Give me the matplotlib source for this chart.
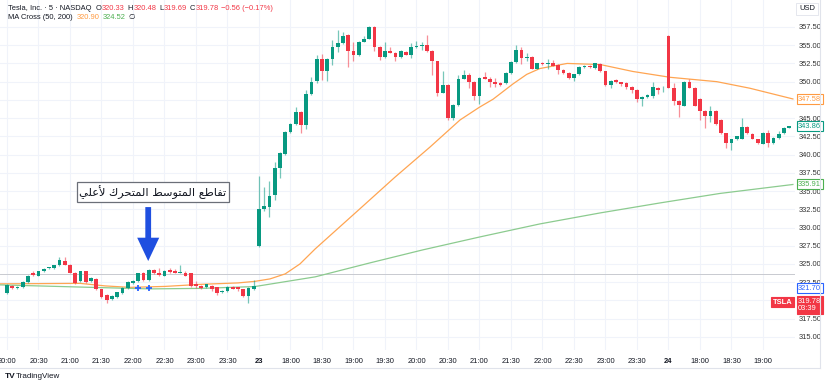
import numpy as np
import matplotlib.pyplot as plt
from matplotlib.lines import Line2D
import matplotlib.transforms as mtrans

plt.rcParams['font.family'] = ['Liberation Sans Narrow', 'Liberation Sans', 'DejaVu Sans']

# 5 minute candles
opens = [321.0, 322.0, 321.7, 321.8, 322.5, 323.8, 323.4, 324.0, 324.4, 324.4,
         324.8, 325.4, 324.9, 323.8, 322.6, 324.0, 322.6, 323.0, 321.5, 320.8,
         320.2, 320.5, 321.0, 321.7, 322.4, 322.6, 323.7, 322.8, 324.2, 323.8,
         323.4, 324.2, 324.0, 323.8, 323.8, 323.7, 322.2, 322.0, 321.9, 322.0,
         321.8, 321.1, 321.3, 321.9, 321.8, 321.5, 320.6, 321.5, 327.5, 332.5,
         332.8, 334.4, 338.2, 340.1, 343.1, 344.2, 345.8, 344.1, 348.3, 350.1,
         353.1, 351.5, 353.1, 354.8, 355.3, 356.4, 354.2, 353.6, 355.5, 355.9,
         357.5, 354.8, 353.4, 354.2, 354.0, 353.4, 354.1, 353.7, 354.7, 354.9,
         355.0, 354.2, 352.8, 348.5, 349.6, 345.0, 346.8, 350.4, 350.9, 350.0,
         348.0, 350.6, 350.3, 349.9, 349.8, 349.8, 351.2, 352.7, 354.4, 353.2,
         353.4, 351.8, 352.6, 352.45, 352.5, 352.3, 351.6, 351.2, 350.5, 351.0,
         352.0, 352.2, 351.9, 352.4, 351.4, 349.6, 350.2, 349.9, 349.8, 349.3,
         348.9, 347.6, 347.9, 348.0, 349.2, 348.8, 356.3, 349.2, 347.4, 346.7,
         349.9, 349.2, 347.6, 346.0, 345.3, 346.0, 344.8, 342.9, 341.6, 342.1,
         342.2, 343.8, 342.8, 342.1, 341.5, 343.0, 341.6, 342.3, 342.9, 343.7]
closes = [322.1, 321.7, 321.9, 322.5, 323.4, 323.5, 324.0, 324.3, 324.5, 324.8,
          325.5, 324.9, 323.8, 322.4, 324.0, 322.5, 323.1, 321.5, 320.5, 320.1,
          320.6, 321.1, 321.7, 322.5, 322.7, 323.7, 322.8, 324.2, 323.7, 323.5,
          324.1, 323.9, 323.8, 323.85, 323.4, 322.0, 322.0, 321.7, 322.2, 321.6,
          321.0, 321.3, 321.9, 321.6, 321.5, 320.6, 321.7, 322.0, 332.5, 332.9,
          334.3, 338.2, 340.2, 343.1, 344.2, 345.8, 344.1, 348.3, 350.0, 353.1,
          351.5, 353.1, 354.8, 355.3, 356.3, 354.2, 353.6, 355.5, 355.9, 357.5,
          354.8, 353.4, 354.2, 354.0, 353.4, 354.2, 353.7, 354.7, 354.9, 355.0,
          354.2, 352.8, 348.5, 349.6, 345.0, 346.8, 350.4, 350.9, 350.0, 348.0,
          350.5, 350.4, 349.9, 349.7, 349.5, 351.2, 352.7, 354.4, 353.2, 353.4,
          351.8, 352.5, 352.4, 352.5, 352.2, 351.6, 351.2, 350.5, 351.0, 352.0,
          352.1, 352.0, 352.5, 351.4, 349.6, 350.1, 349.9, 349.7, 349.3, 348.8,
          347.6, 347.9, 348.2, 349.3, 348.8, 348.9, 349.2, 347.4, 346.8, 350.0,
          349.2, 346.7, 346.0, 345.3, 346.0, 344.2, 342.9, 341.6, 342.1, 342.5,
          343.8, 342.9, 342.2, 341.6, 343.0, 341.6, 342.3, 342.8, 343.7, 343.86]
highs = [322.2, 322.1, 322.0, 322.6, 323.5, 324.0, 324.1, 324.4, 324.6, 324.9,
         325.9, 326.0, 325.0, 323.9, 324.1, 324.1, 323.2, 323.1, 321.6, 320.9,
         320.7, 321.2, 321.8, 322.6, 322.8, 323.8, 323.9, 324.3, 324.3, 324.4,
         324.2, 324.4, 324.3, 324.8, 324.0, 323.8, 322.6, 322.1, 322.3, 322.1,
         321.9, 321.4, 322.0, 322.0, 321.9, 321.6, 321.8, 322.8, 337.0, 335.6,
         336.4, 339.0, 340.3, 343.2, 344.3, 346.5, 346.0, 348.9, 350.6, 353.7,
         353.8, 353.2, 355.7, 357.1, 356.8, 356.5, 355.4, 355.6, 356.3, 357.7,
         357.6, 354.9, 355.4, 354.8, 354.1, 354.3, 354.2, 355.3, 355.6, 355.4,
         356.4, 354.3, 352.9, 351.4, 349.7, 346.9, 350.9, 351.6, 351.2, 350.1,
         350.6, 351.3, 350.7, 350.5, 349.9, 351.3, 352.9, 355.0, 354.7, 353.9,
         353.5, 352.6, 352.7, 353.1, 353.0, 352.4, 351.7, 351.3, 351.1, 352.1,
         352.3, 352.3, 352.6, 352.5, 351.5, 350.2, 350.3, 350.0, 349.9, 349.4,
         349.0, 348.0, 348.3, 350.0, 349.3, 349.4, 356.4, 349.8, 347.5, 350.1,
         350.3, 349.3, 347.7, 346.1, 346.7, 346.1, 344.9, 343.0, 342.2, 342.6,
         345.0, 343.9, 342.9, 342.2, 343.1, 343.4, 342.4, 343.3, 343.8, 343.95]
lows = [320.9, 321.6, 321.6, 321.7, 322.4, 323.3, 323.3, 323.9, 324.3, 324.3,
        324.7, 324.8, 323.7, 322.3, 322.5, 322.4, 322.5, 321.4, 320.3, 319.7,
        320.1, 320.4, 320.9, 321.6, 322.3, 322.5, 322.7, 322.7, 323.6, 323.4,
        323.3, 323.8, 323.7, 323.7, 323.3, 321.9, 321.7, 321.6, 321.7, 321.3,
        320.8, 321.0, 321.2, 321.5, 321.3, 320.5, 319.7, 321.4, 327.3, 332.2,
        331.5, 333.8, 336.8, 340.0, 342.9, 344.1, 342.9, 343.5, 348.2, 349.8,
        350.2, 350.1, 352.3, 354.1, 355.2, 352.0, 352.9, 353.5, 355.4, 355.8,
        354.2, 353.0, 353.3, 353.9, 352.8, 353.3, 353.6, 353.3, 354.6, 354.4,
        354.1, 350.9, 348.0, 348.4, 344.8, 344.7, 346.6, 350.3, 349.1, 347.5,
        346.9, 350.3, 349.3, 349.3, 349.4, 349.7, 351.1, 352.6, 352.4, 352.9,
        351.7, 351.7, 352.3, 351.8, 352.1, 351.1, 351.1, 350.4, 350.1, 350.9,
        351.9, 351.9, 351.8, 351.3, 349.4, 349.1, 349.8, 349.4, 349.0, 348.5,
        347.2, 346.6, 347.8, 347.8, 348.3, 348.6, 349.1, 346.8, 345.1, 346.6,
        349.1, 346.6, 344.8, 343.6, 344.5, 344.0, 342.8, 340.9, 340.6, 342.0,
        342.1, 342.8, 342.1, 341.4, 341.4, 341.0, 341.5, 342.2, 342.8, 343.6]

# moving averages (candle index, price)
ma50_t = [-1.33, 13.9, 18.7, 23.4, 30.1, 36.8, 44.0, 47.2, 50.1, 53.0, 55.8,
          58.7, 67.2, 73.9, 80.6, 86.3, 90.0, 92.6, 96.4, 99.0, 101.5, 106.7,
          113.0, 119.2, 126.3, 135.2, 141.5, 149.7]
ma50_v = [322.27, 322.34, 321.99, 321.79, 321.92, 322.20, 322.40, 322.61,
          322.95, 323.64, 325.0, 327.06, 332.55, 336.90, 341.05, 344.75,
          346.5, 347.6, 349.7, 351.0, 351.8, 352.5, 352.35, 351.4, 350.6,
          350.0, 349.1, 347.63]
ma200_t = [-1.33, 17.7, 27.2, 36.8, 47.2, 58.7, 69.1, 79.2, 90.1, 101.5,
           113.0, 124.4, 135.8, 149.7]
ma200_v = [322.13, 321.76, 321.58, 321.65, 321.90, 323.23, 325.14, 326.93,
           328.71, 330.49, 332.00, 333.37, 334.67, 335.90]

cross_t = [25.0, 27.0]
cross_v = [321.72, 321.72]
prev_close = 323.64

tick_idx = [0, 6, 12, 18, 24, 30, 36, 42, 48, 54, 60, 66, 72, 78, 84, 90,
            96, 102, 108, 114, 120, 126, 132, 138, 144]
tick_lbl = ['20:00', '20:30', '21:00', '21:30', '22:00', '22:30', '23:00', '23:30',
            '23', '18:00', '18:30', '19:00', '19:30', '20:00', '20:30', '21:00',
            '21:30', '22:00', '22:30', '23:00', '23:30', '24', '18:00', '18:30', '19:00']
price_ticks = np.arange(315.0, 358.0, 2.5)
hidden_ticks = [347.5, 320.0]

# Arabic note, written in shaped presentation forms (visual order)
note = ('\ufef2\ufee0\ufecb\ufef7 \ufed9\ufeae\ufea4\ufe98\ufee4\ufedf\ufe8d '
        '\ufec2\ufeb3\ufeee\ufe98\ufee4\ufedf\ufe8d \ufeca\ufec3\ufe8e\ufed4\ufe97')

UP = '#089981'
DOWN = '#F23645'
DARK = '#131722'
FS = 5.4

fig = plt.figure(figsize=(8.25, 3.85), dpi=100)
ax = fig.add_axes([0, 35 / 385, 795 / 825, 350 / 385])

o = np.array(opens); c = np.array(closes)
h = np.array(highs); l = np.array(lows)
t = np.arange(len(o))
cols = np.where(c >= o, UP, DOWN)

# candles: wicks then bodies
ax.vlines(t, l, h, colors=cols, linewidth=0.9, alpha=0.55, zorder=3)
body_lo = np.minimum(o, c)
body_h = np.maximum(np.abs(c - o), 0.12)
ax.bar(t, body_h, bottom=body_lo, width=0.72, color=cols, linewidth=0, zorder=4)

ax.plot(ma50_t, ma50_v, color='#FFA552', lw=0.9, zorder=2)
ax.plot(ma200_t, ma200_v, color='#8CCB8F', lw=0.9, zorder=2)
ax.axhline(prev_close, color='#c8cad0', lw=0.7, zorder=1)
ax.plot(cross_t, cross_v, linestyle='none', marker='+', ms=5, mew=1.3,
        color='#2962FF', zorder=5)

# annotation
ax.arrow(26.9, 332.8, 0, -7.4, width=1.1, head_width=4.2, head_length=3.2,
         length_includes_head=True, color='#1F4FE0', lw=0, zorder=6)
ax.text(27.8, 334.9, note, family='DejaVu Sans', fontsize=8.2, color=DARK,
        ha='center', va='center', zorder=7,
        bbox=dict(boxstyle='square,pad=0.25', fc='white', ec='#6b6f78', lw=0.9))

ax.set_xlim(-1.33, 150.1)
ax.set_ylim(313.2, 361.2)
for s in ax.spines.values():
    s.set_visible(False)
ax.set_xticks(tick_idx)
ax.set_xticklabels(tick_lbl, fontsize=FS, color=DARK)
for lab in ax.get_xticklabels():
    if lab.get_text() in ('23', '24'):
        lab.set_fontweight('bold')
ax.set_yticks(price_ticks)
ax.set_yticklabels(['' if v in hidden_ticks else '%.2f' % v for v in price_ticks],
                   fontsize=FS, color='#333')
ax.yaxis.tick_right()
ax.tick_params(axis='y', length=0, pad=2.5)
ax.tick_params(axis='x', length=0, pad=6)
ax.grid(True, color='#F0F3FA', lw=0.8)
ax.set_axisbelow(True)

# value tags on the price scale
tr = mtrans.blended_transform_factory(ax.transAxes, ax.transData)
tags = [(347.58, '#FF9A40'), (343.86, '#089981'), (335.91, '#4CAF50'), (321.70, '#2962FF')]
for val, col in tags:
    ax.text(1.004, val, '%.2f' % val, transform=tr, fontsize=FS, color=col,
            ha='left', va='center', clip_on=False, zorder=8,
            bbox=dict(boxstyle='square,pad=0.2', fc='white', ec=col, lw=0.8))
ax.text(1.004, 319.35, '319.78\n03:39', transform=tr, fontsize=FS, color='white',
        ha='left', va='center', linespacing=1.05, clip_on=False, zorder=8,
        bbox=dict(boxstyle='square,pad=0.22', fc=DOWN, ec=DOWN, lw=0.8))
ax.text(0.997, 319.78, 'TSLA', transform=tr, fontsize=FS, color='white',
        ha='right', va='center', clip_on=False, zorder=8, fontweight='bold',
        bbox=dict(boxstyle='square,pad=0.22', fc=DOWN, ec=DOWN, lw=0.8))

# header (legend rows): each piece is placed right after the previous one
row1 = [('Tesla, Inc. · 5 · NASDAQ', DARK), ('O', DARK, 3), ('320.33', DOWN, 0.3),
        ('H', DARK, 2), ('320.48', DOWN, 0.3), ('L', DARK, 2), ('319.69', DOWN, 0.3),
        ('C', DARK, 2), ('319.78', DOWN, 0.3), ('−0.56 (−0.17%)', DOWN, 2)]
row2 = [('MA Cross (50, 200)', DARK), ('320.90', '#FF9A40', 3),
        ('324.52', '#4CAF50', 2), ('∅', DARK, 2)]
for y, row in ((8.5, row1), (17.5, row2)):
    prev = fig.text(8 / 825, 1 - y / 385, row[0][0], fontsize=FS, color=row[0][1],
                    va='center')
    for s, col, gap in row[1:]:
        prev = fig.add_artist(plt.Annotation(s, xy=(1, 0.5), xycoords=prev,
                                             xytext=(gap, 0), textcoords='offset points',
                                             fontsize=FS, color=col, va='center'))

fig.text(799 / 825, 1 - 9 / 385, 'USD', fontsize=FS, color=DARK, va='center',
         bbox=dict(boxstyle='square,pad=0.35', fc='white', ec='#e0e3eb', lw=0.6))

# frame of the chart
fig.add_artist(Line2D([820 / 825, 820 / 825], [1, 1 - 368 / 385], color='#e0e3eb', lw=0.8))
fig.add_artist(Line2D([0, 820 / 825], [1 - 368 / 385, 1 - 368 / 385], color='#e0e3eb', lw=0.8))

fig.text(5 / 825, 1 - 377 / 385, 'TV', fontsize=6, fontweight='bold', color=DARK, va='center')
fig.text(16 / 825, 1 - 377 / 385, 'TradingView', fontsize=FS + 0.4, color=DARK, va='center')

fig.savefig('out.png', dpi=100, facecolor='white')
